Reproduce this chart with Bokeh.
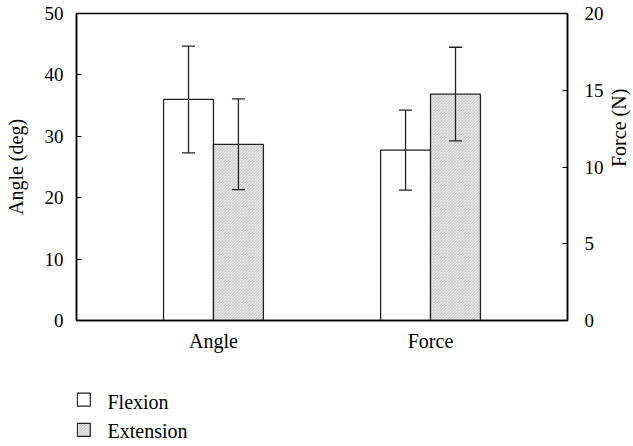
import math
from bokeh.plotting import figure
from bokeh.layouts import column
from bokeh.models import (Range1d, LinearAxis, FixedTicker, SingleIntervalTicker,
                          ColumnDataSource, Whisker, TeeHead)
from bokeh.core.properties import value
from bokeh.embed import file_html
from bokeh.resources import INLINE

# ---- data ----
groups = ["Angle", "Force"]
flexion_mean = [36.0, 11.1]
flexion_sd = [8.7, 2.6]
extension_mean = [28.7, 14.75]
extension_sd = [7.4, 3.05]
series_names = ["Flexion", "Extension"]

FONT = "Liberation Serif"
FS_TICK = "19px"
FS_LAB = "20px"
group_pos = [i + 1 for i in range(len(groups))]
bar_w = 0.23
offset = bar_w / 2
HATCH = dict(hatch_pattern="\\", hatch_scale=3.0, hatch_color="#999999",
             hatch_weight=0.8, hatch_alpha=0.7)

p = figure(frame_width=491, frame_height=307, output_backend="svg", toolbar_location=None,
           x_range=Range1d(0.369, 2.631), y_range=Range1d(0, 50),
           min_border_left=76, min_border_right=66, min_border_top=13,
           min_border_bottom=40)
p.extra_y_ranges = {"force": Range1d(0, 20)}
p.grid.visible = False
p.outline_line_color = "black"
p.outline_line_width = 1.5
p.background_fill_color = "white"
p.border_fill_color = "white"

range_names = ["default", "force"]

for si, (name, means, sds) in enumerate([("Flexion", flexion_mean, flexion_sd),
                                         ("Extension", extension_mean, extension_sd)]):
    dx = -offset if si == 0 else offset
    for gi in range(len(groups)):
        src = ColumnDataSource(dict(x=[group_pos[gi] + dx], top=[means[gi]],
                                    lo=[means[gi] - sds[gi]], hi=[means[gi] + sds[gi]]))
        kw = dict(x="x", top="top", bottom=0, width=bar_w, source=src,
                  fill_color="white", line_color="#222222", line_width=1.3,
                  y_range_name=range_names[gi])
        if si == 1:
            kw.update(HATCH)
        p.vbar(**kw)
        w = Whisker(base="x", lower="lo", upper="hi", source=src, dimension="height",
                    line_color="#222222", line_width=1.3, level="annotation",
                    lower_head=TeeHead(size=13, line_color="#222222", line_width=1.3),
                    upper_head=TeeHead(size=13, line_color="#222222", line_width=1.3),
                    y_range_name=range_names[gi])
        p.add_layout(w)

# x axis
p.xaxis.ticker = FixedTicker(ticks=group_pos)
p.xaxis.major_label_overrides = {pos: g for pos, g in zip(group_pos, groups)}
p.xaxis.major_tick_line_color = None
p.xaxis.minor_tick_line_color = None
p.xaxis.axis_line_color = "black"
p.xaxis.axis_line_width = 1.5
p.xaxis.major_label_text_font = FONT
p.xaxis.major_label_text_font_size = FS_LAB
p.xaxis.major_label_text_color = "black"
p.xaxis.major_label_standoff = 3

# left axis
ya = p.yaxis[0]
ya.ticker = SingleIntervalTicker(interval=10)
ya.axis_label = "Angle (deg)"
ya.minor_tick_line_color = None
ya.major_tick_in = 5
ya.major_tick_out = 0
ya.major_label_standoff = 9
ya.axis_line_width = 1.5
ya.major_label_text_font = FONT
ya.major_label_text_font_size = FS_TICK
ya.major_label_text_color = "black"
ya.axis_label_text_font = FONT
ya.axis_label_text_font_size = FS_LAB
ya.axis_label_text_font_style = "normal"
ya.axis_label_text_color = "black"
ya.axis_label_standoff = 15

ra = LinearAxis(y_range_name="force", ticker=SingleIntervalTicker(interval=5),
                axis_label="Force (N)")
ra.minor_tick_line_color = None
ra.major_tick_in = 5
ra.major_tick_out = 0
ra.major_label_standoff = 13
ra.axis_line_width = 1.5
ra.major_label_text_font = FONT
ra.major_label_text_font_size = FS_TICK
ra.major_label_text_color = "black"
ra.axis_label_text_font = FONT
ra.axis_label_text_font_size = FS_LAB
ra.axis_label_text_font_style = "normal"
ra.axis_label_text_color = "black"
ra.axis_label_standoff = 12
ra.axis_label_orientation = math.pi / 2
p.add_layout(ra, "right")

# ---- legend strip below the chart (coordinates = page pixels) ----
lg = figure(frame_width=491, frame_height=86, output_backend="svg", toolbar_location=None,
            x_range=Range1d(76, 567), y_range=Range1d(86, 0),
            x_axis_type=None, y_axis_type=None,
            min_border_left=76, min_border_right=66, min_border_top=0, min_border_bottom=0)
lg.outline_line_color = None
lg.grid.visible = False
lg.background_fill_color = "white"
lg.border_fill_color = "white"

item_y = [39.2, 69.3]
baseline_y = [41, 70]
for i, name in enumerate(series_names):
    kw = dict(x=[83.3], y=[item_y[i]], width=13, height=13, fill_color="white",
              line_color="#222222", line_width=1.2)
    if i == 1:
        kw.update(HATCH)
    lg.rect(**kw)
lg.text(x=[107] * len(series_names), y=baseline_y, text=series_names,
        text_font=value(FONT), text_font_size=FS_LAB, text_color="black",
        text_baseline="alphabetic", text_align="left")

layout = column(p, lg, spacing=0)
open("out.html", "w").write(file_html(layout, INLINE))
